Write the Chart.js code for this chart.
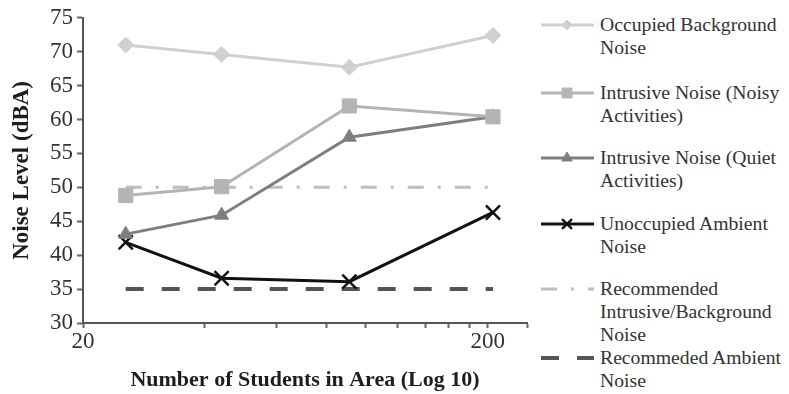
<!DOCTYPE html>
<html>
<head>
<meta charset="utf-8">
<script src="https://cdn.jsdelivr.net/npm/chart.js@4/dist/chart.umd.min.js"></script>
<style>
    body { margin: 0; background: #fff; }
    #wrap { position: relative; width: 789px; height: 394px; font-family: 'Liberation Serif', 'Times New Roman', serif; }
    #c { position: absolute; left: 0; top: 0; }
    .leg { position: absolute; left: 541px; width: 248px; }
    .leg canvas { position: absolute; left: 0; top: 0; }
    .leg div { position: absolute; left: 59px; top: 0; font-size: 19.7px; line-height: 23px; color: #333; white-space: nowrap; }
</style>
</head>
<body>
<div id="wrap">
    <canvas id="c" width="540" height="394"></canvas>
    <div id="legend"></div>
</div>
<script>
// values
const students = [25.5, 44, 91, 206];
const occupied = [71.0, 69.6, 67.7, 72.4];
const noisy = [48.8, 50.1, 62.0, 60.4];
const quiet = [43.1, 45.9, 57.4, 60.4];
const unoccupied = [41.9, 36.6, 36.1, 46.3];
const recIntrusive = [50, 50, 50, 50];
const recAmbient = [35, 35, 35, 35];

const xTicks = [20, 40, 60, 80, 100, 120, 140, 160, 180, 200, 250];
const xTickLabels = [20, 200];
const seriesNames = [
    ["Occupied Background", "Noise"],
    ["Intrusive Noise (Noisy", "Activities)"],
    ["Intrusive Noise (Quiet", "Activities)"],
    ["Unoccupied Ambient", "Noise"],
    ["Recommended", "Intrusive/Background", "Noise"],
    ["Recommeded Ambient", "Noise"]
];
// first-line centre of each legend entry
const legendTops = [25, 93, 158, 224, 289, 358];

const FONT = "'Liberation Serif', 'Times New Roman', serif";

function pts(values) {
    return students.map((x, i) => ({x: x, y: values[i]}));
}

function series(name, values, color, style, radius, legendRadius, dash, width) {
    return {
        label: name.join(' '),
        data: pts(values),
        borderColor: color,
        backgroundColor: color,
        borderWidth: width || 3,
        borderDash: dash || [],
        pointStyle: style || false,
        pointRadius: style ? radius : 0,
        pointBorderWidth: style === 'crossRot' ? 2.5 : 1,
        legendRadius: legendRadius,
        tension: 0
    };
}

const datasets = [
    series(seriesNames[0], occupied, '#d0d0d0', 'rectRot', 8, 5),
    series(seriesNames[1], noisy, '#b4b4b4', 'rect', 10, 7),
    series(seriesNames[2], quiet, '#7e7e7e', 'triangle', 8, 6),
    series(seriesNames[3], unoccupied, '#111111', 'crossRot', 10, 7),
    series(seriesNames[4], recIntrusive, '#bdbdbd', null, 0, 0, [16, 14, 3, 14], 3),
    series(seriesNames[5], recAmbient, '#555555', null, 0, 0, [18, 18], 4)
];

const chart = new Chart(document.getElementById('c'), {
    type: 'line',
    data: {datasets: datasets},
    options: {
        responsive: false,
        animation: false,
        layout: {padding: {top: 15, right: 13, bottom: 0, left: 0}},
        plugins: {legend: {display: false}, tooltip: {enabled: false}},
        scales: {
            x: {
                type: 'logarithmic',
                min: 20,
                max: 250,
                afterBuildTicks: (s) => { s.ticks = xTicks.map(v => ({value: v})); },
                afterFit: (s) => { s.height = 71; },
                ticks: {
                    autoSkip: false,
                    maxRotation: 0,
                    padding: 0,
                    color: '#333',
                    font: {family: FONT, size: 23},
                    callback: (v) => xTickLabels.includes(v) ? String(v) : ''
                },
                grid: {drawOnChartArea: false, drawTicks: true, tickLength: 5, tickWidth: 2, color: '#666'},
                border: {color: '#555', width: 2},
                title: {
                    display: true,
                    text: 'Number of Students in Area (Log 10)',
                    color: '#1e1e1e',
                    font: {family: FONT, size: 22, weight: 'bold'},
                    padding: {top: 0, bottom: 0}
                }
            },
            y: {
                min: 30,
                max: 75,
                afterFit: (s) => { s.width = 83; },
                ticks: {stepSize: 5, padding: 4, color: '#333', font: {family: FONT, size: 23}},
                grid: {drawOnChartArea: false, drawTicks: true, tickLength: 6, tickWidth: 2, color: '#666'},
                border: {color: '#555', width: 2},
                title: {
                    display: true,
                    text: 'Noise Level (dBA)',
                    color: '#1e1e1e',
                    font: {family: FONT, size: 23, weight: 'bold'},
                    padding: {top: 8, bottom: 0}
                }
            }
        }
    }
});

// html legend with wrapped names, swatches drawn with the library's point helper
const legend = document.getElementById('legend');
datasets.forEach((ds, i) => {
    const box = document.createElement('div');
    box.className = 'leg';
    box.style.top = (legendTops[i] - 12) + 'px';
    const cv = document.createElement('canvas');
    cv.width = 56;
    cv.height = 24;
    const ctx = cv.getContext('2d');
    ctx.strokeStyle = ds.borderColor;
    ctx.lineWidth = ds.borderWidth;
    ctx.setLineDash(ds.borderDash);
    ctx.beginPath();
    ctx.moveTo(0, 12);
    ctx.lineTo(53, 12);
    ctx.stroke();
    ctx.setLineDash([]);
    if (ds.pointStyle) {
        ctx.fillStyle = ds.backgroundColor;
        ctx.lineWidth = ds.pointBorderWidth;
        Chart.helpers.drawPoint(ctx, {pointStyle: ds.pointStyle, radius: ds.legendRadius, borderWidth: ds.pointBorderWidth}, 26, 12);
    }
    const txt = document.createElement('div');
    txt.innerHTML = seriesNames[i].join('<br>');
    box.appendChild(cv);
    box.appendChild(txt);
    legend.appendChild(box);
});
</script>
</body>
</html>
